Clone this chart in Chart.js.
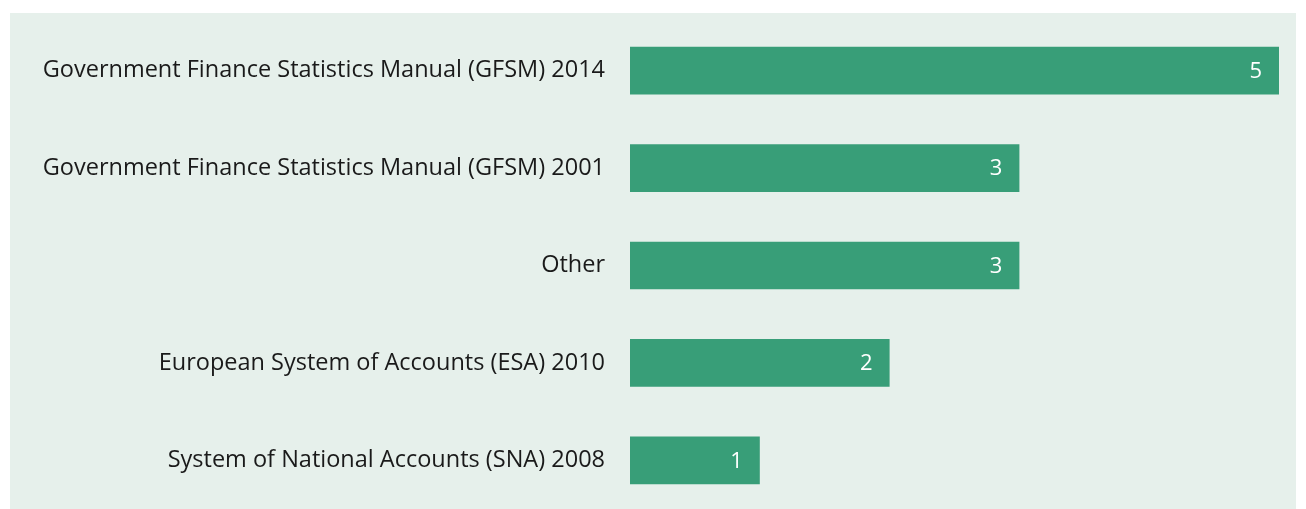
<!DOCTYPE html>
<html>
<head>
<meta charset="utf-8">
<title>Statistical manuals</title>
<script src="https://cdn.jsdelivr.net/npm/chart.js"></script>
<style>
    html, body { margin: 0; padding: 0; background: #ffffff; }
    #wrap { width: 1306px; height: 509px; position: relative; }
</style>
</head>
<body>
<div id="wrap"><canvas id="myChart" width="1306" height="509"></canvas></div>
<script>
    var categories = [
        'Government Finance Statistics Manual (GFSM) 2014',
        'Government Finance Statistics Manual (GFSM) 2001',
        'Other',
        'European System of Accounts (ESA) 2010',
        'System of National Accounts (SNA) 2008'
    ];
    var counts = [5, 3, 3, 2, 1];

    var FONT = '"Open Sans", "Noto Sans", sans-serif';

    // light green panel behind the chart
    var panelBg = {
        id: 'panelBg',
        beforeDraw: function (chart) {
            var ctx = chart.ctx;
            ctx.save();
            ctx.fillStyle = '#e6f0eb';
            ctx.fillRect(10, 13, 1286, 496);
            ctx.restore();
        }
    };

    // white value labels at the end of each bar
    var valueLabels = {
        id: 'valueLabels',
        afterDatasetsDraw: function (chart) {
            var ctx = chart.ctx;
            var meta = chart.getDatasetMeta(0);
            ctx.save();
            ctx.fillStyle = '#ffffff';
            ctx.font = '22px ' + FONT;
            ctx.textAlign = 'right';
            ctx.textBaseline = 'middle';
            meta.data.forEach(function (bar, i) {
                ctx.fillText(String(counts[i]), bar.x - 17, bar.y + 1);
            });
            ctx.restore();
        }
    };

    new Chart(document.getElementById('myChart'), {
        type: 'bar',
        data: {
            labels: categories,
            datasets: [{
                data: counts,
                backgroundColor: '#389e78',
                borderWidth: 0,
                categoryPercentage: 1,
                barPercentage: 0.49
            }]
        },
        options: {
            indexAxis: 'y',
            responsive: false,
            animation: false,
            layout: { padding: { top: 22, right: 27, bottom: 0, left: 0 } },
            plugins: {
                legend: { display: false },
                tooltip: { enabled: false }
            },
            scales: {
                x: {
                    display: false,
                    min: 0,
                    max: 5
                },
                y: {
                    afterFit: function (scale) {
                        scale.width = 630;
                        scale.paddingTop = 0;
                        scale.paddingBottom = 0;
                    },
                    grid: { display: false, drawTicks: false },
                    border: { display: false },
                    ticks: {
                        padding: 25,
                        color: '#1a1a1a',
                        font: { family: FONT, size: 23.5 }
                    }
                }
            }
        },
        plugins: [panelBg, valueLabels]
    });
</script>
</body>
</html>
